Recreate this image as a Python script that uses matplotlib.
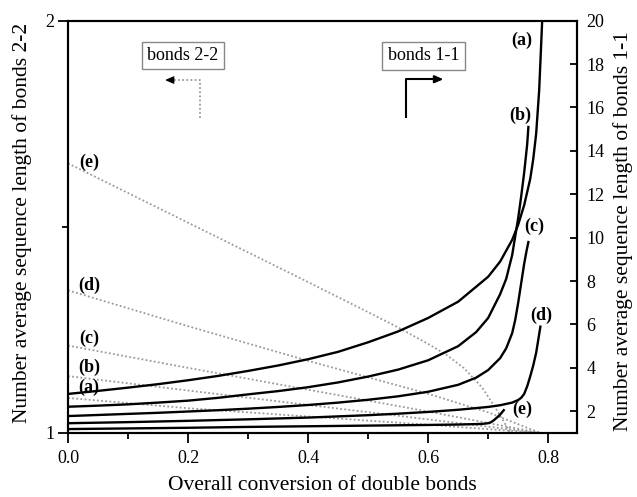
import matplotlib
matplotlib.use('Agg')
import matplotlib.pyplot as plt
from matplotlib.ticker import FixedLocator

plt.rcParams['font.family'] = ['Liberation Serif', 'DejaVu Serif']

# ---------------- data ----------------
series_names = ["(a)", "(b)", "(c)", "(d)", "(e)"]

# bonds 1-1 (right axis, solid)
a11_x = [0, 0.05, 0.1, 0.15, 0.2, 0.25, 0.3, 0.35, 0.4, 0.45, 0.5, 0.55, 0.6, 0.65, 0.7,
         0.72, 0.74, 0.75, 0.76, 0.77, 0.775, 0.78, 0.785, 0.79]
a11_y = [2.80, 2.94, 3.09, 3.25, 3.43, 3.63, 3.86, 4.11, 4.40, 4.74, 5.18, 5.68, 6.30, 7.05, 8.20,
         8.90, 9.90, 10.6, 11.5, 12.7, 13.6, 14.8, 16.8, 20.0]
b11_x = [0, 0.05, 0.1, 0.15, 0.2, 0.25, 0.3, 0.35, 0.4, 0.45, 0.5, 0.55, 0.6, 0.65, 0.68, 0.7,
         0.72, 0.73, 0.74, 0.75, 0.755, 0.76, 0.765, 0.767]
b11_y = [2.21, 2.26, 2.32, 2.40, 2.49, 2.62, 2.78, 2.93, 3.11, 3.33, 3.60, 3.92, 4.35, 5.00, 5.65, 6.30,
         7.40, 8.10, 9.20, 10.9, 11.9, 13.0, 14.3, 15.1]
c11_x = [0, 0.05, 0.1, 0.15, 0.2, 0.25, 0.3, 0.35, 0.4, 0.45, 0.5, 0.55, 0.6, 0.65, 0.68, 0.7,
         0.72, 0.73, 0.74, 0.745, 0.75, 0.755, 0.76, 0.764, 0.767]
c11_y = [1.78, 1.83, 1.88, 1.93, 1.99, 2.05, 2.12, 2.20, 2.29, 2.40, 2.53, 2.69, 2.90, 3.22, 3.55, 3.90,
         4.45, 4.90, 5.60, 6.20, 7.00, 7.90, 8.80, 9.40, 9.80]
d11_x = [0, 0.1, 0.2, 0.3, 0.4, 0.5, 0.55, 0.6, 0.65, 0.7, 0.72, 0.74, 0.75, 0.755, 0.76,
         0.765, 0.77, 0.775, 0.78, 0.787]
d11_y = [1.45, 1.50, 1.56, 1.63, 1.71, 1.82, 1.89, 1.97, 2.07, 2.20, 2.28, 2.40, 2.52, 2.62, 2.80,
         3.15, 3.60, 4.10, 4.70, 5.90]
e11_x = [0, 0.1, 0.2, 0.3, 0.4, 0.5, 0.6, 0.65, 0.68, 0.69, 0.70, 0.705, 0.71, 0.715, 0.72, 0.726]
e11_y = [1.18, 1.21, 1.24, 1.28, 1.31, 1.34, 1.37, 1.39, 1.41, 1.42, 1.45, 1.50, 1.60, 1.72, 1.85, 2.05]

# bonds 2-2 (left axis, dotted)
a22_x = [0, 0.2, 0.4, 0.6, 0.787]
a22_y = [1.085, 1.06, 1.04, 1.02, 1.0]
b22_x = [0, 0.2, 0.4, 0.6, 0.787]
b22_y = [1.138, 1.103, 1.068, 1.033, 1.0]
c22_x = [0, 0.2, 0.4, 0.6, 0.787]
c22_y = [1.212, 1.158, 1.105, 1.052, 1.0]
d22_x = [0, 0.2, 0.4, 0.6, 0.7, 0.787]
d22_y = [1.346, 1.259, 1.175, 1.095, 1.05, 1.0]
e22_x = [0, 0.2, 0.4, 0.5, 0.55, 0.6, 0.63, 0.66, 0.69, 0.71, 0.725, 0.737]
e22_y = [1.654, 1.510, 1.366, 1.293, 1.256, 1.216, 1.19, 1.157, 1.11, 1.066, 1.03, 1.0]

x_ticks = [0.0, 0.2, 0.4, 0.6, 0.8]
x_minor = [0.1, 0.3, 0.5, 0.7]
left_ticks = [1, 2]
right_ticks = [2, 4, 6, 8, 10, 12, 14, 16, 18, 20]

# ---------------- figure ----------------
fig = plt.figure(figsize=(6.37, 4.97), dpi=100)
ax = fig.add_axes([0.1068, 0.1288, 0.7990, 0.8296])
ax2 = ax.twinx()

dot_style = dict(color='#9a9a9a', lw=1.3, linestyle=(0, (1, 1.3)))
for xs, ys in [(a22_x, a22_y), (b22_x, b22_y), (c22_x, c22_y), (d22_x, d22_y), (e22_x, e22_y)]:
    ax.plot(xs, ys, **dot_style)

for xs, ys in [(a11_x, a11_y), (b11_x, b11_y), (c11_x, c11_y), (d11_x, d11_y), (e11_x, e11_y)]:
    ax2.plot(xs, ys, color='black', lw=1.7, solid_joinstyle='round')

ax.set_xlim(0, 0.848)
ax.set_ylim(1, 2)
ax2.set_ylim(1, 20)

# ticks
ax.xaxis.set_major_locator(FixedLocator(x_ticks))
ax.xaxis.set_minor_locator(FixedLocator(x_minor))
ax.set_xticklabels([f"{v:.1f}" for v in x_ticks])
ax.yaxis.set_major_locator(FixedLocator(left_ticks))
ax.yaxis.set_minor_locator(FixedLocator([1.5]))
ax.set_yticklabels([str(v) for v in left_ticks])
ax.tick_params(axis='x', which='major', direction='out', length=7, width=1.3, labelsize=13, pad=5)
ax.tick_params(axis='x', which='minor', direction='out', length=4, width=1.3)
ax.tick_params(axis='y', which='major', direction='out', length=7, width=1.3, labelsize=13, pad=3)
ax.tick_params(axis='y', which='minor', direction='out', length=4, width=1.3)

ax2.yaxis.set_major_locator(FixedLocator(right_ticks))
ax2.set_yticklabels([str(v) for v in right_ticks])
ax2.tick_params(axis='y', which='major', direction='in', length=5, width=1.3, labelsize=13, pad=7)

for a in (ax, ax2):
    for s in a.spines.values():
        s.set_linewidth(1.5)

ax.set_xlabel("Overall conversion of double bonds", fontsize=15.5)
ax.set_ylabel("Number average sequence length of bonds 2-2", fontsize=15.5)
ax2.set_ylabel("Number average sequence length of bonds 1-1", fontsize=15.5, rotation=90)
ax.xaxis.set_label_coords(0.5, -0.104)
ax.yaxis.set_label_coords(-0.071, 0.51)
ax2.yaxis.set_label_coords(1.071, 0.49)

# curve labels
lab_kw = dict(fontsize=13, fontweight='bold', ha='center', va='center')
left_lab_pos = [(0.035, 1.111), (0.035, 1.160), (0.035, 1.230), (0.035, 1.358), (0.035, 1.656)]
right_lab_pos = [(0.756, 19.1), (0.753, 15.65), (0.776, 10.5), (0.789, 6.44), (0.756, 2.09)]
for name, (px, py) in zip(series_names, left_lab_pos):
    ax.text(px, py, name, **lab_kw)
for name, (px, py) in zip(series_names, right_lab_pos):
    ax2.text(px, py, name, **lab_kw)

# boxes
box_kw = dict(boxstyle='square,pad=0.3', fc='white', ec='#888888', lw=1.0)
ax.text(0.1917, 1.9156, "bonds 2-2", fontsize=13, ha='center', va='center', bbox=box_kw)
ax.text(0.592, 1.915, "bonds 1-1", fontsize=13, ha='center', va='center', bbox=box_kw)

# arrows
ax.plot([0.22, 0.22, 0.175], [1.763, 1.856, 1.856], color='#9a9a9a', lw=1.3, linestyle=(0, (1, 1.3)))
ax.annotate("", xy=(0.157, 1.856), xytext=(0.176, 1.856),
            arrowprops=dict(arrowstyle='-|>,head_length=0.5,head_width=0.22', color='black', lw=1.0))
ax.plot([0.563, 0.563, 0.61], [1.767, 1.858, 1.858], color='black', lw=1.5)
ax.annotate("", xy=(0.63, 1.858), xytext=(0.608, 1.858),
            arrowprops=dict(arrowstyle='-|>,head_length=0.5,head_width=0.22', color='black', lw=1.5))

fig.savefig("out.png", dpi=100)
